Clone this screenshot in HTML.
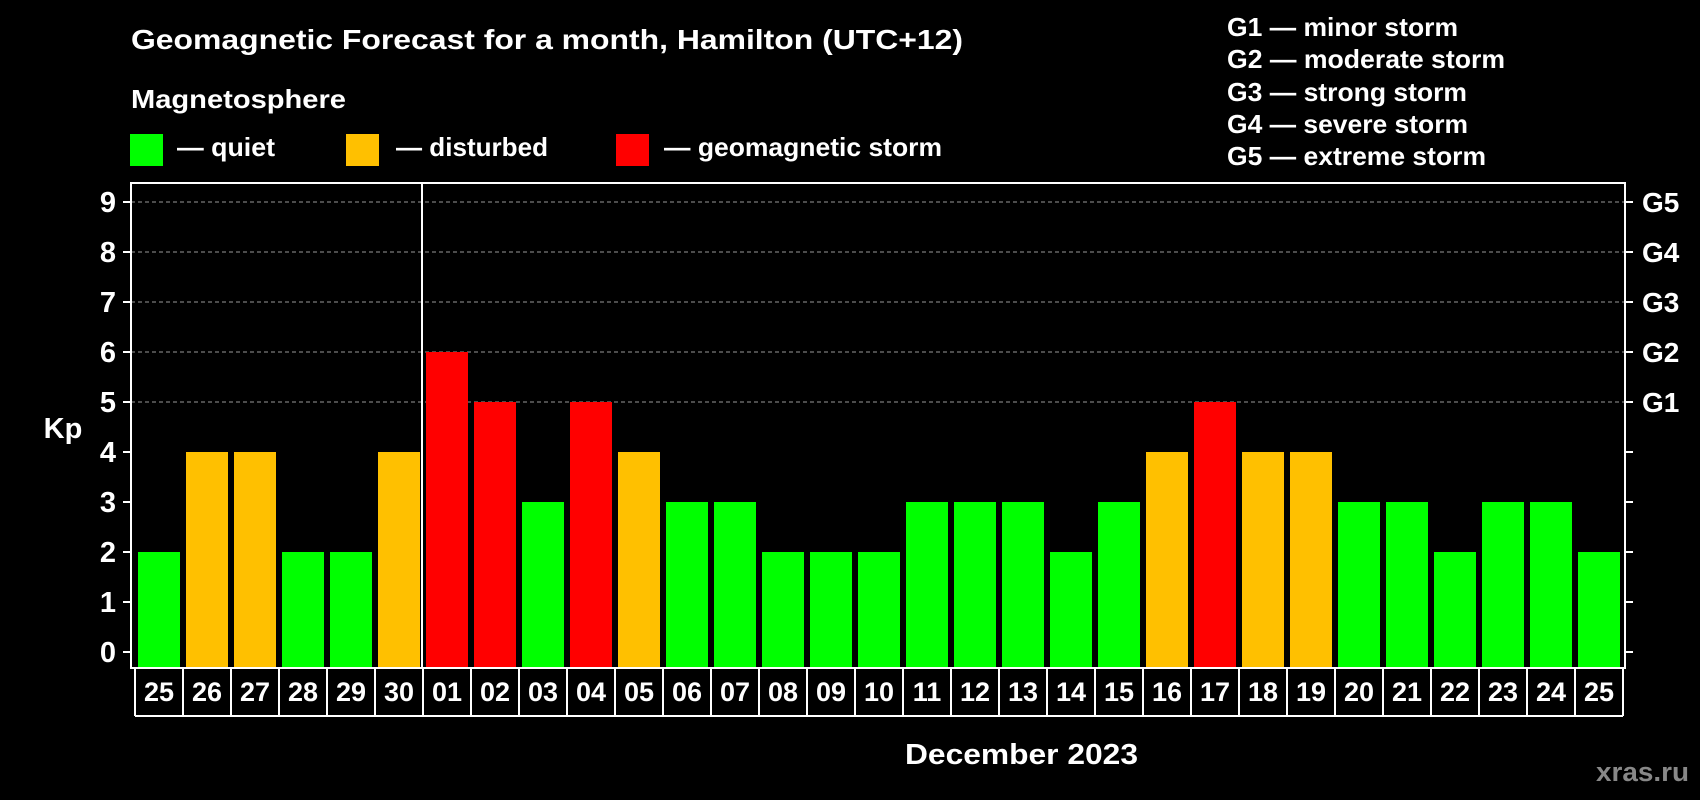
<!DOCTYPE html>
<html><head><meta charset="utf-8"><style>
html,body{margin:0;padding:0;background:#000;width:1700px;height:800px;overflow:hidden}
svg{display:block;font-family:"Liberation Sans",Arial,sans-serif;font-weight:bold}
</style></head><body>
<svg id="chart" width="1700" height="800" xmlns="http://www.w3.org/2000/svg">
<rect width="1700" height="800" fill="#000"/>
<text x="131" y="49" fill="#fff" font-size="28" textLength="832" lengthAdjust="spacingAndGlyphs">Geomagnetic Forecast for a month, Hamilton (UTC+12)</text>
<text x="131" y="108" fill="#fff" font-size="26" textLength="215" lengthAdjust="spacingAndGlyphs">Magnetosphere</text>
<g><rect x="130" y="134" width="33" height="32" fill="#00ff00"/><text x="177" y="156" fill="#fff" font-size="26" textLength="98" lengthAdjust="spacingAndGlyphs">— quiet</text></g>
<g><rect x="346" y="134" width="33" height="32" fill="#ffc000"/><text x="396" y="156" fill="#fff" font-size="26" textLength="152" lengthAdjust="spacingAndGlyphs">— disturbed</text></g>
<g><rect x="616" y="134" width="33" height="32" fill="#ff0000"/><text x="664" y="156" fill="#fff" font-size="26" textLength="278" lengthAdjust="spacingAndGlyphs">— geomagnetic storm</text></g>
<g fill="#fff" font-size="26">
<text x="1227" y="36" textLength="231" lengthAdjust="spacingAndGlyphs">G1 — minor storm</text>
<text x="1227" y="68" textLength="278" lengthAdjust="spacingAndGlyphs">G2 — moderate storm</text>
<text x="1227" y="101" textLength="240" lengthAdjust="spacingAndGlyphs">G3 — strong storm</text>
<text x="1227" y="133" textLength="241" lengthAdjust="spacingAndGlyphs">G4 — severe storm</text>
<text x="1227" y="165" textLength="259" lengthAdjust="spacingAndGlyphs">G5 — extreme storm</text>
</g>
<text x="63" y="438" fill="#fff" font-size="29" text-anchor="middle">Kp</text>
<text x="905" y="764" fill="#fff" font-size="29" textLength="233" lengthAdjust="spacingAndGlyphs">December 2023</text>
<text x="1596" y="781" fill="#888" font-size="27" textLength="93" lengthAdjust="spacingAndGlyphs">xras.ru</text>
<g id="plot"></g>
</svg>
<script>
const days = ["25","26","27","28","29","30","01","02","03","04","05","06","07","08","09","10","11","12","13","14","15","16","17","18","19","20","21","22","23","24","25"];
const kpValues = [2,4,4,2,2,4,6,5,3,5,4,3,3,2,2,2,3,3,3,2,3,4,5,4,4,3,3,2,3,3,2];
const yTicks = [0,1,2,3,4,5,6,7,8,9];
const gLabels = ["G1","G2","G3","G4","G5"];
const gLevels = [5,6,7,8,9];

const NS="http://www.w3.org/2000/svg";
const plot=document.getElementById('plot');
const L=131,R=1625,T=183,B=668;
const y0=652, unit=(652-202)/9;
const yScale=v=>y0-v*unit;
const x0=138, pitch=48, bw=42;
const xScale=i=>x0+i*pitch;
function mk(tag,attrs,parent){const e=document.createElementNS(NS,tag);for(const k in attrs)e.setAttribute(k,attrs[k]);(parent||plot).appendChild(e);return e;}
function color(v){return v>=5?'#ff0000':(v>=4?'#ffc000':'#00ff00');}

gLevels.forEach(v=>{
  const l=mk('line',{x1:L,x2:R,y1:yScale(v),y2:yScale(v),stroke:'#999','stroke-width':1,'stroke-dasharray':'4,3'});
  
  
});
kpValues.forEach((v,i)=>{
  const top=yScale(v);
  const r=mk('rect',{x:xScale(i),y:top,width:bw,height:B-top,fill:color(v)});
  
  
});
const fr=mk('rect',{x:L,y:T,width:R-L,height:B-T,fill:'none',stroke:'#fff','stroke-width':2});


const sepX=xScale(6)-4;
const sep=mk('line',{x1:sepX,x2:sepX,y1:T,y2:B,stroke:'#fff','stroke-width':2});


yTicks.forEach(v=>{
  const y=yScale(v);
  mk('line',{x1:L-8,x2:L,y1:y,y2:y,stroke:'#fff','stroke-width':2});
  mk('line',{x1:R,x2:R+8,y1:y,y2:y,stroke:'#fff','stroke-width':2});
  const t=mk('text',{x:116,y:y+10,fill:'#fff','font-size':29,'text-anchor':'end'});
  t.textContent=v;
  
  
});
gLabels.forEach((g,i)=>{
  const t=mk('text',{x:1642,y:yScale(gLevels[i])+10,fill:'#fff','font-size':28});
  t.textContent=g;
  
  
});
const boxTop=669, boxBot=716;
mk('line',{x1:135,x2:xScale(days.length-1)+45,y1:boxBot,y2:boxBot,stroke:'#fff','stroke-width':2});
days.forEach((d,i)=>{
  const bx=xScale(i)-3;
  mk('line',{x1:bx,x2:bx,y1:boxTop,y2:boxBot,stroke:'#fff','stroke-width':2});
  const t=mk('text',{x:xScale(i)+bw/2,y:701,fill:'#fff','font-size':27,'text-anchor':'middle'});
  t.textContent=d;
  
  
});
const lastX=xScale(days.length-1)+45;
mk('line',{x1:lastX,x2:lastX,y1:boxTop,y2:boxBot,stroke:'#fff','stroke-width':2});
</script>
</body></html>
